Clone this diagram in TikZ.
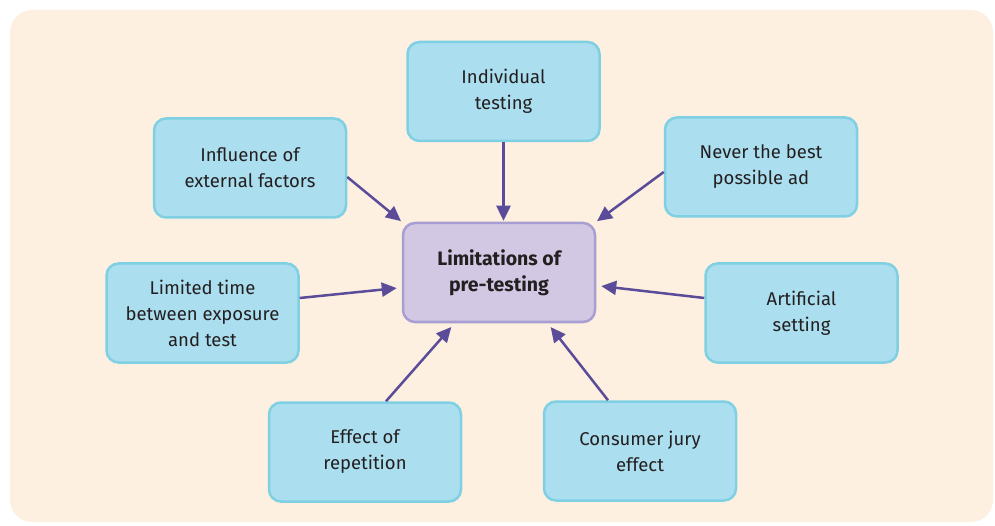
\documentclass[tikz,border=0pt]{standalone}
\usepackage{fontspec}
\setmainfont{Fira Sans}
\usetikzlibrary{arrows.meta}
\definecolor{bgcream}{HTML}{FDF0E1}
\definecolor{boxfill}{HTML}{ABDEEF}
\definecolor{boxline}{HTML}{7FD0E3}
\definecolor{ctrfill}{HTML}{D2C8E3}
\definecolor{ctrline}{HTML}{A89ED2}
\definecolor{arrowcol}{HTML}{5B4C9A}
\definecolor{txtcol}{HTML}{231F20}
\tikzset{
  itembox/.style={draw=boxline, fill=boxfill, line width=2.5pt, rounded corners=12pt,
    minimum width=192pt, minimum height=99pt, align=center, text=txtcol,
    font=\fontsize{18.5}{26}\selectfont},
  ctrbox/.style={itembox, draw=ctrline, fill=ctrfill, font=\fontsize{19.5}{26}\selectfont\bfseries},
  conn/.style={draw=arrowcol, line width=2.5pt, -{Triangle[length=15pt,width=14pt]}, shorten >=1pt}
}
\begin{document}
\begin{tikzpicture}[x=1pt,y=-1pt]
\useasboundingbox (0,0) rectangle (995,526);
\fill[bgcream, rounded corners=22pt] (10,10) rectangle (993,522);
\node[ctrbox] (ctr) at (499,272.5) {Limitations of\\pre-testing};
\node[itembox] (ind) at (503.5,91.5) {Individual\\testing};
\node[itembox] (inf) at (250,168) {Influence of\\external factors};
\node[itembox] (nev) at (761,167) {Never the best\\possible ad};
\node[itembox] (lim) at (202.5,313) {Limited time\\between exposure\\and test};
\node[itembox] (art) at (801.5,313) {Artificial\\setting};
\node[itembox] (eff) at (365,452) {Effect of\\repetition};
\node[itembox] (con) at (640,451) {Consumer jury\\effect};
\draw[conn] (ind.south) -- (ctr.north -| ind.south);
\draw[conn] ([yshift=-9pt]inf.east) -- (ctr.north west);
\draw[conn] ([yshift=-5pt]nev.west) -- (ctr.north east);
\draw[conn] ([yshift=15pt]lim.east) -- ([xshift=-4pt,yshift=-15.5pt]ctr.west);
\draw[conn] ([yshift=15pt]art.west) -- ([xshift=4pt,yshift=-13.5pt]ctr.east);
\draw[conn] ([xshift=21pt]eff.north) -- ([xshift=-47pt,yshift=-3pt]ctr.south);
\draw[conn] ([xshift=-32pt]con.north) -- ([xshift=51pt,yshift=-3pt]ctr.south);
\end{tikzpicture}
\end{document}
